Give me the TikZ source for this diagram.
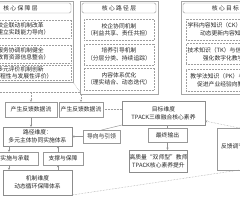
\documentclass[tikz,border=0pt]{standalone}
\usepackage{fontspec}
\newfontfamily\cjk{Noto Sans CJK SC}
\usetikzlibrary{arrows.meta}
\newcommand\hdrsp{\hspace{1.3pt}}
\begin{document}
\begin{tikzpicture}[x=1pt,y=-1pt,
  every node/.style={font=\cjk\fontsize{5.8}{7.6}\selectfont, text=black!85, inner sep=0pt, outer sep=0pt, align=center},
  frame/.style={draw=gray!70, line width=0.4pt},
  header/.style={draw=gray!80, rounded corners=1.5pt, line width=0.45pt, fill=white},
  subbox/.style={draw=gray!75, densely dotted, line width=0.5pt},
  lbl/.style={draw=gray!80, line width=0.45pt, fill=white},
  dim/.style={draw=gray!90, line width=0.5pt, fill=white},
  fb/.style={draw=gray!75, densely dotted, line width=0.5pt},
  fbarr/.style={fb, -{Stealth[length=2.4pt,width=2.2pt]}},
  link/.style={draw=gray!85, line width=0.45pt},
  arr/.style={link, -{Stealth[length=2.4pt,width=2.2pt]}}]
\useasboundingbox (0,0) rectangle (240,200);
\clip (0,0) rectangle (240,200);
\fill[white] (0,0) rectangle (240,200);

% ---- left column: core guarantee layer
\node[frame, minimum width=106, minimum height=81] (fl) at (20,41.5) {};
\node[header, minimum width=101, minimum height=10] (hl) at (20.5,8) {核\hdrsp 心\hdrsp 保\hdrsp 障\hdrsp 层};
\node[subbox, minimum width=101, minimum height=18] (l1) at (20.5,29) {校企联动机制改革\\（建立实践能力导向）};
\node[subbox, minimum width=101, minimum height=18] (l2) at (20.5,54) {服务协调机制健全\\（教育资源信息整合）};
\node[subbox, minimum width=101, minimum height=15] (l3) at (20.5,73) {多元评价机制创新\\（过程性与发展性评价）};

% ---- middle column: core path layer
\node[frame, minimum width=78, minimum height=93] (fm) at (119,47.5) {};
\node[header, minimum width=74, minimum height=10] (hm) at (119,8) {核\hdrsp 心\hdrsp 路\hdrsp 径\hdrsp 层};
\node[subbox, minimum width=70, minimum height=21] (m1) at (119,30) {校企协同机制\\（利益共享、责任共担）};
\node[subbox, minimum width=70, minimum height=21] (m2) at (119,54.5) {培养引导机制\\（分层分类、持续追踪）};
\node[subbox, minimum width=70, minimum height=22] (m3) at (119,79) {内容体系优化\\（理实结合、动态迭代）};

% ---- right column: core goal layer
\node[frame, minimum width=96, minimum height=93] (fr) at (229,47.5) {};
\node[header, minimum width=92, minimum height=10] (hr) at (229,8) {核\hdrsp 心\hdrsp 目\hdrsp 标\hdrsp 层};
\node[subbox, minimum width=86, minimum height=21] (r1) at (229,29.5) {学科内容知识（CK）与产业对接\\动态更新内容知识体系};
\node[subbox, minimum width=86, minimum height=21] (r2) at (229,54) {技术知识（TK）与信息技术融合\\强化数字化教学能力};
\node[subbox, minimum width=86, minimum height=22] (r3) at (229,80) {教学法知识（PK）与产教融合\\促进产业经验向教学转化};

% ---- feedback labels
\node[lbl, minimum width=52, minimum height=15] (fa) at (31,109.5) {产生反馈数据流};
\node[lbl, minimum width=44, minimum height=15] (fbb) at (81,109.5) {产生反馈数据流};

% ---- dimensions
\node[dim, minimum width=83, minimum height=24] (goal) at (163.5,113) {目标维度\\TPACK三维融合核心素养};
\node[dim, minimum width=69, minimum height=19] (path) at (37.5,136.5) {路径维度：\\多元主体协同实施体系};
\node[dim, minimum width=69, minimum height=25] (mech) at (37.5,182.5) {机制维度\\动态循环保障体系};
\node[dim, minimum width=58, minimum height=22] (qual) at (158.5,161) {高质量“双师型”教师\\TPACK核心素养提升};

\node[lbl, minimum width=37, minimum height=13] (guide) at (101.5,136.5) {导向与引领};
\node[lbl, minimum width=39, minimum height=14] (outp) at (167.5,135) {最终输出};
\node[lbl, minimum width=46, minimum height=13] (impl) at (15,158.5) {实施与承载};
\node[lbl, minimum width=40, minimum height=13] (supp) at (63,158.5) {支撑与保障};
\node[lbl, minimum width=45, minimum height=42] (fbk) at (239.5,149) {};
\node[anchor=west] (fbkt) at (221,146) {反馈调节机制};

% ---- connectors
\coordinate (fbw) at (-5,92);
\coordinate (xl) at (9,0);
\coordinate (xr) at (58,0);
\draw[fb] (fbw) -- (fm.south west |- fbw);
\draw[fb] (fl.south east) -- (fm.south west |- fbw);
\draw[fbarr] (fa.north |- fbw) -- (fa.north);
\draw[fbarr] (fbb.north |- fm.south) -- (fbb.north);
\draw[fb] (fbb.east) -- (goal.west |- fbb.east);
\draw[arr] (fa.south) -- (fa.south |- path.north);

\draw[arr] (path.south -| xl) -- (impl.north -| xl);
\draw[arr] (impl.south -| xl) -- (mech.north -| xl);
\draw[arr] (mech.north -| xr) -- (supp.south -| xr);
\draw[arr] (supp.north -| xr) -- (path.south -| xr);

\draw[link] (goal.south west) -- (guide.north);
\draw[arr] (guide.west) -- (path.east |- guide.west);
\draw[link] (goal.south -| outp.north) -- (outp.north);
\draw[arr] (outp.south) -- (outp.south |- qual.north);

\draw[fbarr] (fbk.north) -- ([yshift=-8pt]goal.east);
\draw[fb] (mech.south east) -- (fbk.south);
\end{tikzpicture}
\end{document}
